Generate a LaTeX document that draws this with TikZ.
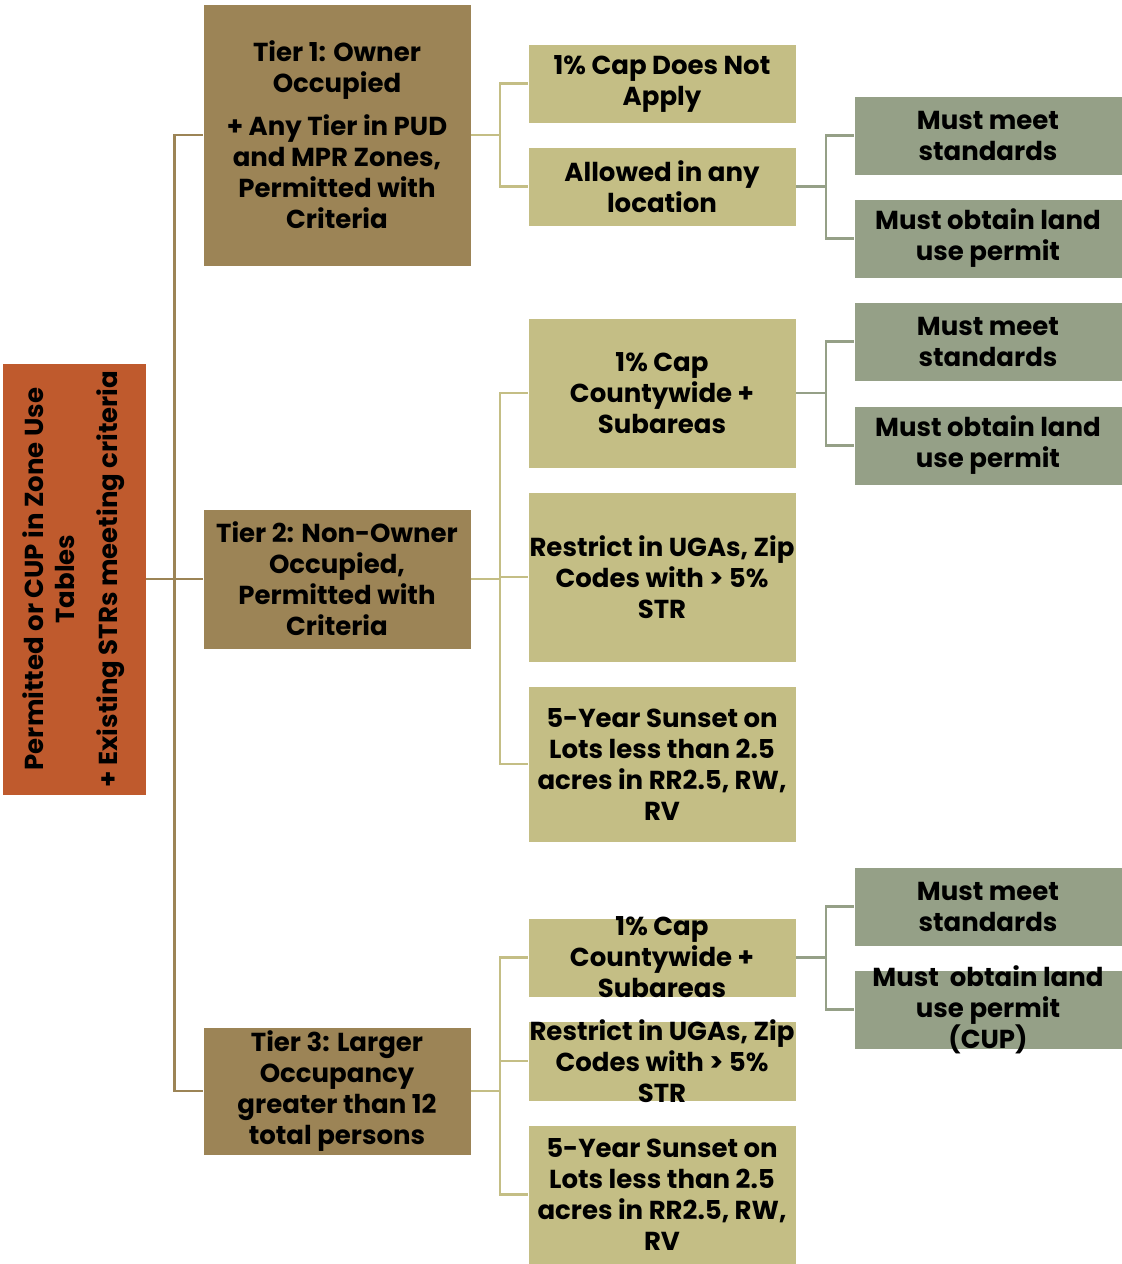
\documentclass[tikz,border=0pt]{standalone}
\usepackage{fontspec}
\setmainfont{Poppins}
\definecolor{rootc}{HTML}{BF5A2D}
\definecolor{tierc}{HTML}{9C8456}
\definecolor{lvac}{HTML}{C4BE85}
\definecolor{lvbc}{HTML}{95A087}
\begin{document}
\begin{tikzpicture}[x=1pt,y=-1pt,
  txt/.style={font=\fontsize{26}{31}\selectfont\bfseries, align=center, text=black, inner sep=0pt},
  box/.style={draw=white, line width=0.8pt, inner sep=0pt, minimum width=268pt},
  tier/.style={box, fill=tierc},
  lva/.style={box, fill=lvac},
  lvb/.style={box, fill=lvbc},
  ca/.style={draw=tierc, line width=2.6pt},
  cb/.style={draw=lvac, line width=2.2pt},
  cc/.style={draw=lvbc, line width=2.2pt}]
\useasboundingbox (0,0) rectangle (1122,1264);
% root
\node[box, fill=rootc, minimum width=144pt, minimum height=432pt,
  label={[txt, rotate=90]center:{Permitted or CUP in Zone Use\\Tables\\[12pt]+ Existing STRs meeting criteria}}] (root) at (74,579) {};
% tiers
\node[tier, minimum height=262pt, label={[txt]center:{Tier 1: Owner\\Occupied\\[12pt]+ Any Tier in PUD\\and MPR Zones,\\Permitted with\\Criteria}}] (t1) at (337,135) {};
\node[tier, minimum height=140pt, label={[txt]center:{Tier 2: Non-Owner\\Occupied,\\Permitted with\\Criteria}}] (t2) at (337,579) {};
\node[tier, minimum height=128pt, label={[txt]center:{Tier 3: Larger\\Occupancy\\greater than 12\\total persons}}] (t3) at (337,1091) {};
% level 2
\node[lva, minimum height=79pt, label={[txt]center:{1\% Cap Does Not\\Apply}}] (a1) at (662,83.5) {};
\node[lva, minimum height=79pt, label={[txt]center:{Allowed in any\\location}}] (a2) at (662,186.5) {};
\node[lva, minimum height=150pt, label={[txt]center:{1\% Cap\\Countywide +\\Subareas}}] (b1) at (662,393) {};
\node[lva, minimum height=170pt, label={[txt]center:{Restrict in UGAs, Zip\\Codes with > 5\%\\STR}}] (b2) at (662,577) {};
\node[lva, minimum height=156pt, label={[txt]center:{5-Year Sunset on\\Lots less than 2.5\\acres in RR2.5, RW,\\RV}}] (b3) at (662,764) {};
\node[lva, minimum height=79pt, label={[txt]center:{1\% Cap\\Countywide +\\Subareas}}] (c1) at (662,957.5) {};
\node[lva, minimum height=80pt, label={[txt]center:{Restrict in UGAs, Zip\\Codes with > 5\%\\STR}}] (c2) at (662,1061) {};
\node[lva, minimum height=139pt, label={[txt]center:{5-Year Sunset on\\Lots less than 2.5\\acres in RR2.5, RW,\\RV}}] (c3) at (662,1194.5) {};
% level 3
\node[lvb, minimum height=79pt, label={[txt]center:{Must meet\\standards}}] (g1) at (988,135.5) {};
\node[lvb, minimum height=79pt, label={[txt]center:{Must obtain land\\use permit}}] (g2) at (988,238.5) {};
\node[lvb, minimum height=79pt, label={[txt]center:{Must meet\\standards}}] (g3) at (988,341.5) {};
\node[lvb, minimum height=79pt, label={[txt]center:{Must obtain land\\use permit}}] (g4) at (988,445.5) {};
\node[lvb, minimum height=79pt, label={[txt]center:{Must meet\\standards}}] (g5) at (988,906.5) {};
\node[lvb, minimum height=79pt, label={[txt]center:{Must\ \ obtain land\\use permit\\(CUP)}}] (g6) at (988,1009.5) {};
% connectors root -> tiers
\draw[ca] (t1.west) -- ++(-28,0) |- (t3.west);
\draw[ca] (root.east) -- (t2.west);
% tier -> level 2
\draw[cb] (t1.east) -- ++(29,0);
\draw[cb] (a1.west) -- ++(-28,0) |- (a2.west);
\draw[cb] (t2.east) -- ++(29,0);
\draw[cb] (b1.west) -- ++(-28,0) |- (b3.west);
\draw[cb] (b2.west) -- ++(-28,0);
\draw[cb] (t3.east) -- ++(29,0);
\draw[cb] (c1.west) -- ++(-28,0) |- (c3.west);
\draw[cb] (c2.west) -- ++(-28,0);
% level 2 -> level 3
\draw[cc] (a2.east) -- ++(29,0);
\draw[cc] (g1.west) -- ++(-28,0) |- (g2.west);
\draw[cc] (b1.east) -- ++(29,0);
\draw[cc] (g3.west) -- ++(-28,0) |- (g4.west);
\draw[cc] (c1.east) -- ++(29,0);
\draw[cc] (g5.west) -- ++(-28,0) |- (g6.west);
\end{tikzpicture}
\end{document}
